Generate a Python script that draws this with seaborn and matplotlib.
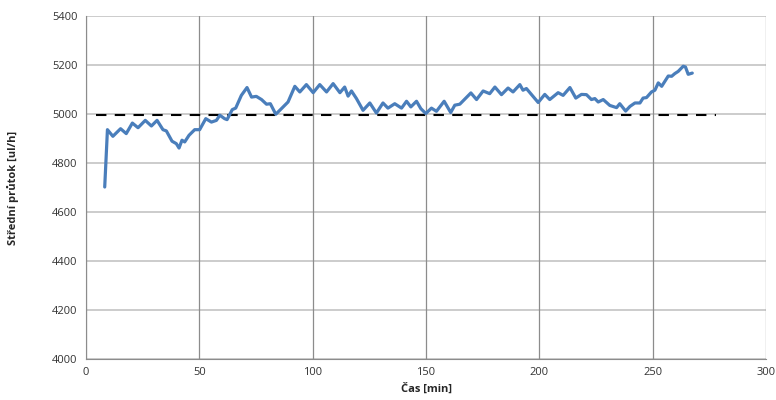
import matplotlib
matplotlib.use("Agg")
import matplotlib.pyplot as plt
import pandas as pd
import seaborn as sns

# time [min] and mean flow rate [ul/h]
cas = [8.2, 9.4, 11.8, 15.2, 17.7, 20.4, 22.9, 26.1, 28.8, 31.3, 33.9, 35.4,
       37.9, 39.8, 41.0, 42.3, 43.5, 45.4, 47.9, 50.1, 52.8, 55.3, 57.5, 59.0,
       61.1, 62.2, 64.5, 66.0, 68.5, 71.0, 73.0, 75.1, 77.4, 79.6, 81.3, 83.7,
       86.2, 89.1, 92.1, 94.3, 97.2, 100.2, 103.1, 106.1, 109.0, 112.0, 114.1,
       115.6, 117.1, 119.3, 122.2, 125.2, 128.1, 131.0, 133.2, 136.2, 139.2,
       141.4, 143.3, 145.8, 147.7, 149.9, 152.4, 154.6, 158.0, 160.9, 162.7,
       164.9, 169.8, 172.3, 175.2, 178.1, 180.4, 183.3, 186.2, 188.4, 191.4,
       192.8, 194.3, 199.5, 202.4, 204.6, 208.3, 210.5, 213.5, 216.1, 218.6,
       220.8, 223.0, 224.5, 226.0, 228.2, 231.1, 234.1, 235.5, 238.1, 240.0,
       242.2, 244.4, 245.8, 247.3, 249.5, 251.0, 252.5, 254.0, 256.9, 258.4,
       259.8, 261.3, 263.5, 264.5, 265.7, 267.5]
prutok = [4702, 4936, 4909, 4940, 4920, 4963, 4944, 4974, 4951, 4974, 4936, 4931,
          4889, 4879, 4861, 4893, 4886, 4913, 4936, 4936, 4981, 4967, 4974, 4995,
          4981, 4977, 5018, 5024, 5076, 5108, 5069, 5072, 5059, 5040, 5042, 4999,
          5022, 5049, 5113, 5090, 5120, 5087, 5120, 5090, 5124, 5087, 5110,
          5073, 5094, 5063, 5015, 5045, 5004, 5045, 5024, 5042, 5024,
          5052, 5029, 5052, 5022, 5002, 5024, 5011, 5052, 5006, 5036,
          5040, 5086, 5059, 5094, 5083, 5110, 5079, 5106, 5090, 5120,
          5097, 5104, 5047, 5080, 5059, 5087, 5076, 5108, 5065, 5080,
          5079, 5059, 5063, 5049, 5059, 5035, 5026, 5042, 5012, 5031,
          5045, 5045, 5065, 5067, 5090, 5097, 5127, 5113, 5155, 5154,
          5165, 5174, 5195, 5192, 5162, 5167]

# target level (dashed)
cil_cas = [4.5, 278]
cil_prutok = [4996, 4996]

x_ticks = [0, 50, 100, 150, 200, 250, 300]
y_ticks = [4000, 4200, 4400, 4600, 4800, 5000, 5200, 5400]

df = pd.DataFrame({"cas": cas, "prutok": prutok})
df_cil = pd.DataFrame({"cas": cil_cas, "prutok": cil_prutok})

sns.set_style("white")
plt.rcParams["font.family"] = ["Open Sans", "DejaVu Sans"]

fig = plt.figure(figsize=(7.76, 4.0), dpi=100)
ax = fig.add_axes([0.111, 0.1025, 0.876, 0.8575])

# grid like the Excel original: pale horizontal, darker vertical lines
for y in y_ticks:
    ax.axhline(y, color="#c4c4c4", lw=1.2, zorder=0)
for x in x_ticks:
    ax.axvline(x, color="#8c8c8c", lw=0.9, zorder=0)

sns.lineplot(data=df_cil, x="cas", y="prutok", ax=ax, color="black",
             lw=1.5, linestyle=(0, (5, 4)), zorder=2)
sns.lineplot(data=df, x="cas", y="prutok", ax=ax, color="#4a7ebb",
             lw=2.3, zorder=3, solid_joinstyle="round", solid_capstyle="round")

ax.set_xlim(0, 300)
ax.set_ylim(4000, 5400)
ax.set_xticks(x_ticks)
ax.set_yticks(y_ticks)
ax.tick_params(axis="both", length=0, labelsize=8, colors="#333333", pad=6)

for spine in ax.spines.values():
    spine.set_visible(False)
ax.spines["left"].set_visible(True)
ax.spines["left"].set_color("#8c8c8c")
ax.spines["bottom"].set_visible(True)
ax.spines["bottom"].set_color("#8c8c8c")

ax.set_xlabel("Čas [min]", fontsize=8, fontweight="bold", labelpad=4)
ax.set_ylabel("Střední průtok [ul/h]", fontsize=8, fontweight="bold", labelpad=24)

fig.savefig("out.png", dpi=100)
